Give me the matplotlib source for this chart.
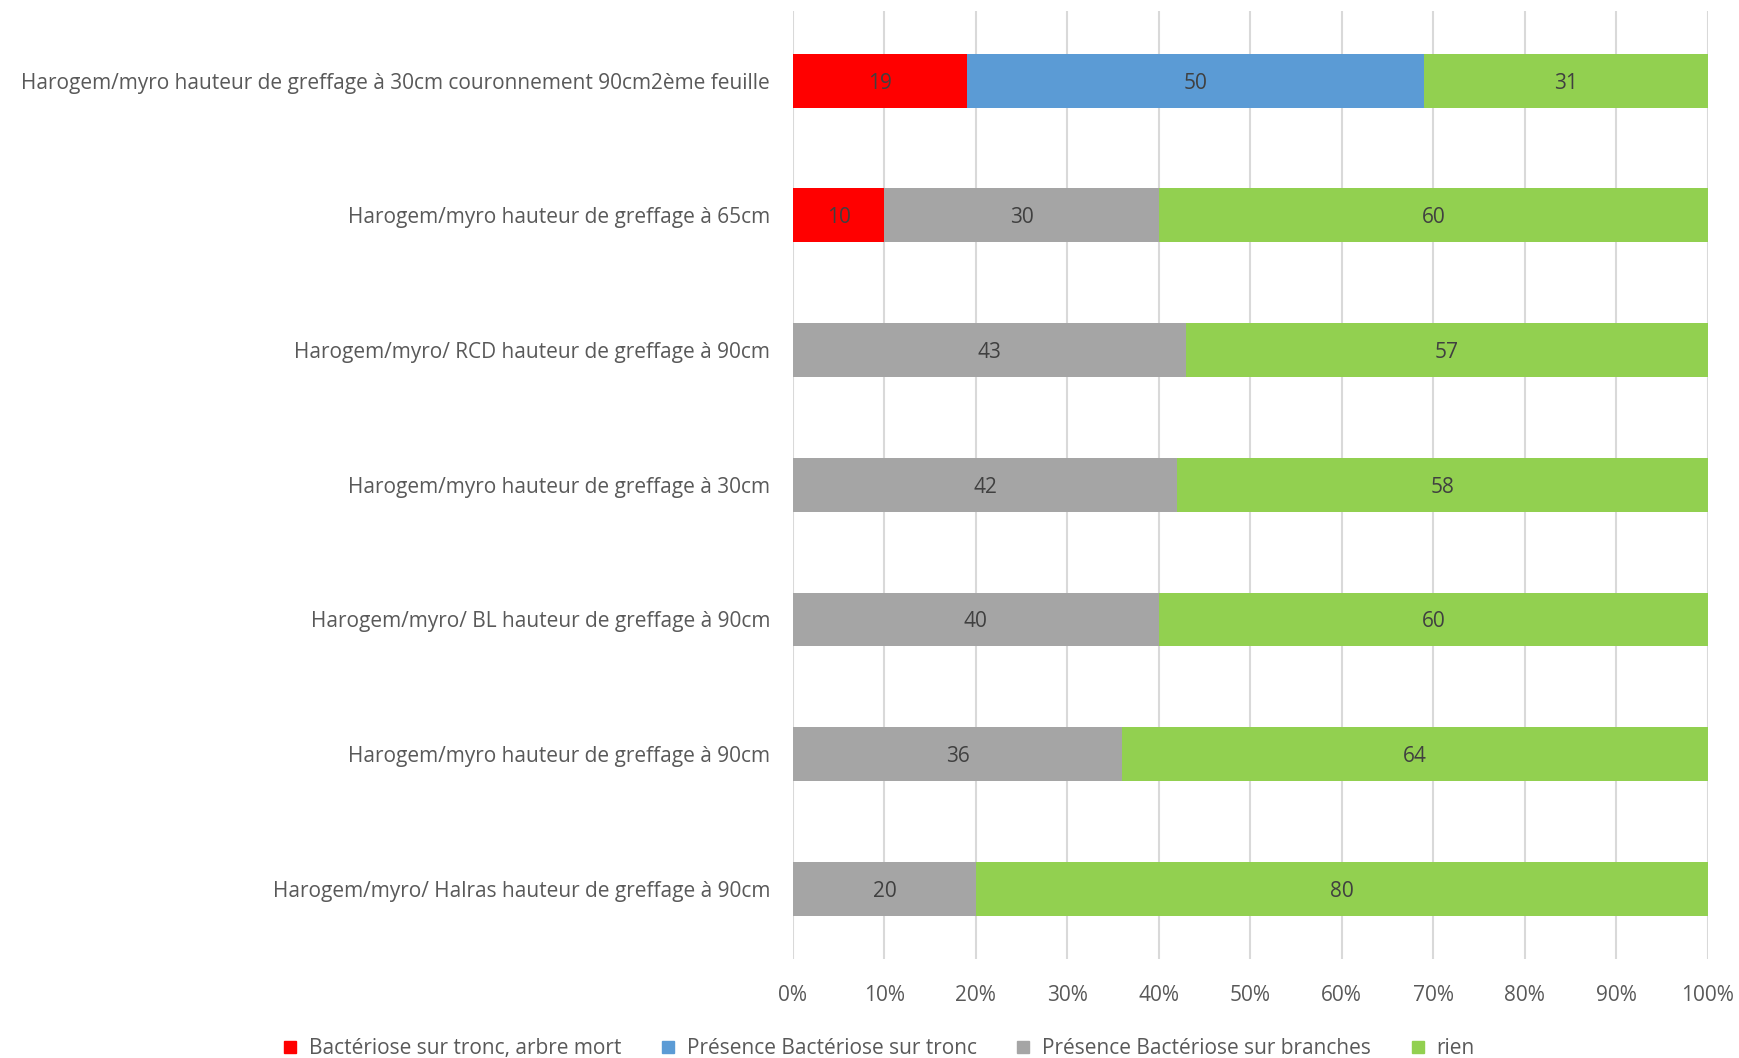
import matplotlib
matplotlib.use("Agg")
import matplotlib.pyplot as plt
from matplotlib import font_manager
from matplotlib.lines import Line2D

available = {f.name for f in font_manager.fontManager.ttflist}
fam = "Liberation Sans Narrow" if "Liberation Sans Narrow" in available else "Open Sans"
plt.rcParams['font.family'] = [fam, 'DejaVu Sans']

categories = [
    "Harogem/myro hauteur de greffage à 30cm couronnement 90cm2ème feuille",
    "Harogem/myro hauteur de greffage à 65cm",
    "Harogem/myro/ RCD hauteur de greffage à 90cm",
    "Harogem/myro hauteur de greffage à 30cm",
    "Harogem/myro/ BL hauteur de greffage à 90cm",
    "Harogem/myro hauteur de greffage à 90cm",
    "Harogem/myro/ Halras hauteur de greffage à 90cm",
]
series_names = ["Bactériose sur tronc, arbre mort", "Présence Bactériose sur tronc",
                "Présence Bactériose sur branches", "rien"]
mort = [19, 10, 0, 0, 0, 0, 0]
tronc = [50, 0, 0, 0, 0, 0, 0]
branches = [0, 30, 43, 42, 40, 36, 20]
rien = [31, 60, 57, 58, 60, 64, 80]
colors = ["#FF0000", "#5B9BD5", "#A5A5A5", "#92D050"]
xticks = [0, 10, 20, 30, 40, 50, 60, 70, 80, 90, 100]

fig = plt.figure(figsize=(17.39, 10.58), dpi=100)
ax = fig.add_axes([0.456, 0.0936, 0.526, 0.8964])

ypos = list(range(len(categories)))
left = [0] * len(categories)
for vals, c in zip([mort, tronc, branches, rien], colors):
    bars = ax.barh(ypos, vals, left=left, color=c, height=0.4, zorder=2)
    labels = [str(v) if v else "" for v in vals]
    txts = ax.bar_label(bars, labels=labels, label_type='center', color="#404040", fontsize=15)
    for t in txts:
        t.set_va('center_baseline')
    left = [l + v for l, v in zip(left, vals)]

ax.set_ylim(len(categories) - 0.48, -0.52)
ax.set_xlim(0, 100)
ax.set_yticks(ypos)
ax.set_yticklabels(categories, fontsize=15, color="#595959")
ax.set_xticks(xticks)
ax.set_xticklabels([f"{t}%" for t in xticks], fontsize=15, color="#595959")
ax.tick_params(axis='both', length=0)
ax.tick_params(axis='y', pad=16.5)
ax.tick_params(axis='x', pad=19)
ax.grid(axis='x', color="#D9D9D9", linewidth=1.5, zorder=0)
for s in ax.spines.values():
    s.set_visible(False)

handles = [Line2D([], [], marker='s', linestyle='none', markersize=9, color=c) for c in colors]
fig.legend(handles, series_names, loc='lower center', bbox_to_anchor=(0.505, -0.019), ncol=4,
           frameon=False, fontsize=15, labelcolor="#595959", handletextpad=0.5,
           columnspacing=1.85, handlelength=0.8)

fig.savefig("out.png", dpi=100)
